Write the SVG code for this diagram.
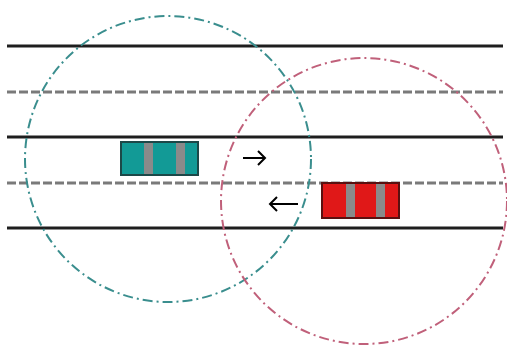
<svg xmlns="http://www.w3.org/2000/svg" width="507" height="349" viewBox="0 0 507 349">
  <style>
    .edge { stroke: #1e1e1e; stroke-width: 3; fill: none; }
    .lane { stroke: #7a7a7a; stroke-width: 3; stroke-dasharray: 9 3; fill: none; }
    .range { fill: none; stroke-width: 2; stroke-dasharray: 10 4 2 4; }
    .arrow { stroke: #000; stroke-width: 2; fill: none; }
    .bar { fill: #8a8a8a; }
  </style>
  <rect width="507" height="349" fill="#fff"/>
  <!-- road: solid edges and dashed lane dividers -->
  <g id="road">
    <line class="edge" x1="7" y1="46" x2="503" y2="46"/>
    <line class="lane" x1="7" y1="92" x2="503" y2="92"/>
    <line class="edge" x1="7" y1="137" x2="503" y2="137"/>
    <line class="lane" x1="7" y1="183" x2="503" y2="183"/>
    <line class="edge" x1="7" y1="228" x2="503" y2="228"/>
  </g>
  <!-- teal vehicle -->
  <g id="car-teal">
    <rect x="121" y="142" width="77" height="33" fill="#129a96" stroke="#1c4848" stroke-width="2"/>
    <rect class="bar" x="144" y="143" width="9" height="31"/>
    <rect class="bar" x="176" y="143" width="9" height="31"/>
  </g>
  <!-- red vehicle -->
  <g id="car-red">
    <rect x="322" y="183" width="77" height="35" fill="#e01818" stroke="#5a1010" stroke-width="2"/>
    <rect class="bar" x="346" y="184" width="9" height="33"/>
    <rect class="bar" x="376" y="184" width="9" height="33"/>
  </g>
  <!-- communication ranges -->
  <g id="range-teal">
    <circle class="range" cx="168" cy="159" r="143" stroke="#3a8e8e"/>
  </g>
  <g id="range-red">
    <circle class="range" cx="364" cy="201" r="143" stroke="#c0607a"/>
  </g>
  <!-- direction arrows -->
  <g id="connectors">
    <path class="arrow" d="M243 158 H265 M258 151 L265 158 L258 165"/>
    <path class="arrow" d="M298 204 H270 M277 197 L270 204 L277 211"/>
  </g>
</svg>
